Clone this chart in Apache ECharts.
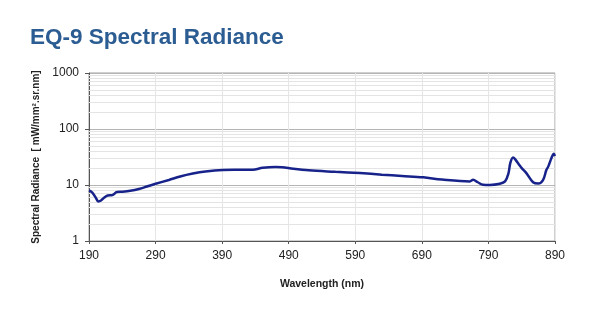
<!DOCTYPE html>
<html>
<head>
<meta charset="utf-8">
<script src="https://cdn.jsdelivr.net/npm/echarts@6/dist/echarts.min.js"></script>
<style>
  html, body { margin: 0; padding: 0; background: #fff; }
  #chart { width: 595px; height: 315px; }
</style>
</head>
<body>
<div id="chart"></div>
<script>
// wavelength (nm) and radiance
var wavelength = [190, 195, 200, 204, 208, 213, 218, 225, 232, 240, 252, 265, 277, 290, 310, 327, 346, 365, 391, 415, 436, 451, 470, 480, 497, 520, 560, 597, 630, 660, 692, 720, 762, 767, 774, 782, 792, 807, 815, 820, 823, 827, 830, 835, 840, 847, 857, 865, 872, 877, 880, 885, 888, 890];
var radiance = [8.0, 7.3, 6.0, 5.1, 5.3, 6.0, 6.5, 6.6, 7.5, 7.6, 7.9, 8.5, 9.4, 10.5, 12.3, 14.2, 16.0, 17.4, 18.5, 18.7, 18.8, 20.3, 21.0, 20.8, 19.5, 18.3, 17.2, 16.3, 15.3, 14.5, 13.7, 12.5, 11.6, 12.4, 11.2, 10.1, 10.0, 10.5, 11.6, 16.0, 25.0, 31.0, 29.0, 24.0, 20.0, 16.3, 11.2, 10.6, 12.2, 18.5, 21.5, 31.0, 36.0, 33.0];
var xStart = 190;
var xTicks = [190, 290, 390, 490, 590, 690, 790, 890];
var minorLevels = [2, 3, 4, 5, 6, 7, 8, 9, 20, 30, 40, 50, 60, 70, 80, 90, 200, 300, 400, 500, 600, 700, 800, 900];

var chart = echarts.init(document.getElementById("chart"));

// x is plotted as offset from 190 so the 100 nm ticks line up
var points = wavelength.map(function (w, i) { return [w - xStart, radiance[i]]; });

var option = {
  animation: false,
  title: {
    text: "EQ-9 Spectral Radiance",
    left: 25,
    top: 21,
    textStyle: { color: "#2b5c92", fontSize: 22.5, fontWeight: "bold", fontFamily: "Liberation Sans" }
  },
  grid: {
    left: 89,
    right: 40,
    top: 73,
    bottom: 74,
    show: true,
    borderColor: "#a0a0a0",
    borderWidth: 1
  },
  xAxis: {
    type: "value",
    min: 0,
    max: xTicks[xTicks.length - 1] - xStart,
    interval: 100,
    name: "Wavelength (nm)",
    nameLocation: "middle",
    nameGap: 38,
    nameTextStyle: { color: "#222", fontSize: 10.5, fontWeight: "bold", fontFamily: "Liberation Sans" },
    axisLine: { lineStyle: { color: "#555", width: 1 } },
    axisTick: { show: true, length: 3, inside: false, lineStyle: { color: "#555" } },
    axisLabel: {
      color: "#222",
      fontSize: 12,
      fontFamily: "Liberation Sans",
      margin: 9,
      formatter: function (v) { return v + xStart; }
    },
    splitLine: { show: true, lineStyle: { color: "#e6e6e6", width: 1 } }
  },
  yAxis: {
    type: "log",
    logBase: 10,
    min: 1,
    max: 1000,
    name: "Spectral Radiance  [ mW/mm\u00b2.sr.nm]",
    nameLocation: "middle",
    nameGap: 47,
    nameTextStyle: { color: "#222", fontSize: 10, fontWeight: "bold", fontFamily: "Liberation Sans" },
    axisLine: { show: true, lineStyle: { color: "#555", width: 1 } },
    axisTick: { show: true, length: 4, lineStyle: { color: "#555" } },
    axisLabel: {
      color: "#222",
      fontSize: 12,
      fontFamily: "Liberation Sans",
      margin: 10,
      formatter: function (v) { return String(Math.round(v)); }
    },
    splitLine: { show: true, lineStyle: { color: "#b4b4b4", width: 1 } }
  },
  series: [
    {
      type: "line",
      data: points,
      showSymbol: false,
      smooth: 0.35,
      lineStyle: { color: "#17238a", width: 2.5 },
      z: 5,
      markLine: {
        silent: true,
        symbol: "none",
        label: { show: false },
        lineStyle: { color: "#e4e4e4", width: 1, type: "solid" },
        data: minorLevels.map(function (v) { return { yAxis: v }; }),
        z: 1
      }
    }
  ]
};

chart.setOption(option);
</script>
</body>
</html>
